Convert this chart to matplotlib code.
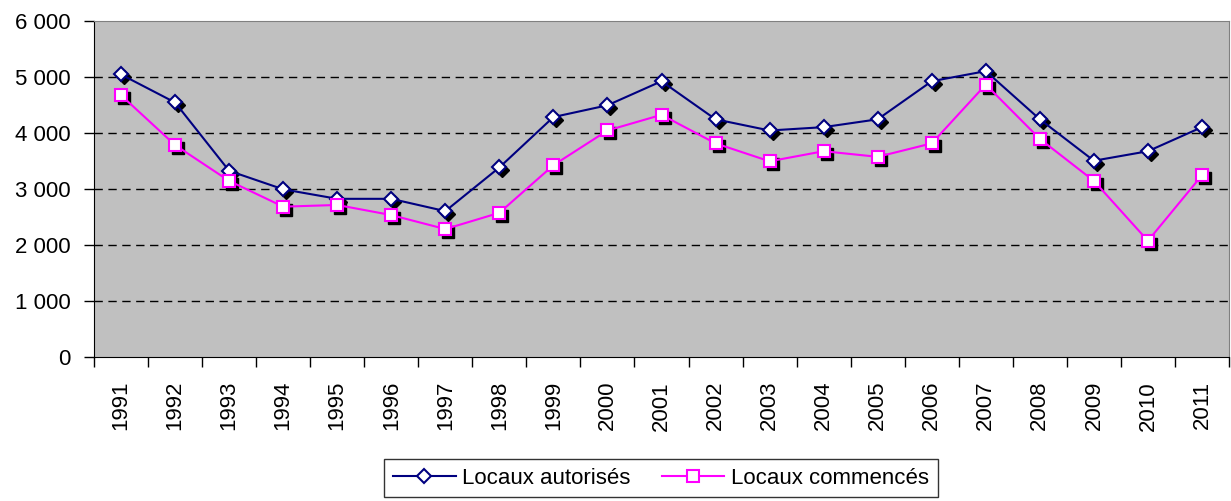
import matplotlib.pyplot as plt
from matplotlib.transforms import offset_copy
from matplotlib.ticker import FuncFormatter, FixedLocator

plt.rcParams['font.family'] = ['Liberation Sans', 'DejaVu Sans']

years = [str(y) for y in range(1991, 2012)]
autorises = [5050, 4550, 3330, 3000, 2830, 2830, 2610, 3390, 4290, 4500, 4930,
             4250, 4050, 4110, 4250, 4930, 5110, 4250, 3510, 3680, 4110]
commences = [4680, 3790, 3150, 2690, 2720, 2540, 2290, 2580, 3430, 4050, 4330,
             3820, 3500, 3680, 3580, 3820, 4870, 3900, 3150, 2080, 3250]

fig = plt.figure(figsize=(12.31, 5.01), dpi=100)
ax = fig.add_axes([94/1231, 1 - 357.3/501, (1229 - 94)/1231, (357.3 - 21.3)/501])
ax.set_facecolor('#c0c0c0')

x = list(range(len(years)))

# shadows under the markers
shadow = offset_copy(ax.transData, fig=fig, x=3, y=-3, units='dots')
ax.plot(x, autorises, ls='none', marker='D', ms=7, color='black', transform=shadow, zorder=2)
ax.plot(x, commences, ls='none', marker='s', ms=8.5, color='black', transform=shadow, zorder=2)

ax.plot(x, autorises, color='#000080', lw=1.5, marker='D', ms=7, mfc='white',
        mec='#000080', mew=1.5, label='Locaux autorisés', zorder=3)
ax.plot(x, commences, color='#ff00ff', lw=1.5, marker='s', ms=8.5, mfc='white',
        mec='#ff00ff', mew=1.5, label='Locaux commencés', zorder=3)

ax.set_xlim(-0.5, len(years) - 0.5)
ax.set_ylim(0, 6000)
ax.set_yticks(range(0, 6001, 1000))
ax.yaxis.set_major_formatter(FuncFormatter(lambda v, p: f'{int(v):,}'.replace(',', ' ')))
for v in range(1000, 6000, 1000):
    ax.axhline(v, color='black', lw=1, ls=(0, (6, 4)), zorder=1)

ax.set_xticks(x)
ax.set_xticklabels(years, rotation=90)
ax.xaxis.set_minor_locator(FixedLocator([i - 0.5 for i in range(len(years) + 1)]))
ax.tick_params(axis='x', which='major', length=0, pad=17, labelsize=16)
ax.tick_params(axis='x', which='minor', length=7, width=1, color='black')
ax.tick_params(axis='y', length=7, width=1, pad=10, labelsize=16)

ax.spines['left'].set_color('black')
ax.spines['bottom'].set_color('black')
ax.spines['top'].set_color('#808080')
ax.spines['right'].set_color('#808080')

leg = fig.legend(loc='center', bbox_to_anchor=(661/1231, 1 - 478/501), ncol=2,
                 fontsize=16, frameon=True, fancybox=False, edgecolor='black',
                 handlelength=2.8, handletextpad=0.3, columnspacing=1.4,
                 borderpad=0.4)
leg.get_frame().set_linewidth(1)

fig.savefig('out.png', dpi=100)
